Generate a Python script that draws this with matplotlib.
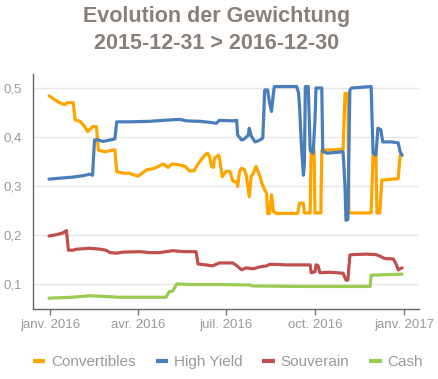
import matplotlib
matplotlib.use("Agg")
import matplotlib.pyplot as plt
import numpy as np
import pandas as pd

# ---------------- data ----------------
conv_dates = ["2015-12-31", "2016-01-06", "2016-01-11", "2016-01-16", "2016-01-19", "2016-01-25",
              "2016-01-27", "2016-02-01", "2016-02-06", "2016-02-09", "2016-02-14", "2016-02-18",
              "2016-02-20", "2016-02-27", "2016-03-08", "2016-03-10", "2016-03-18", "2016-03-23",
              "2016-04-01", "2016-04-10", "2016-04-18", "2016-04-27", "2016-05-02", "2016-05-06",
              "2016-05-14", "2016-05-20", "2016-05-24", "2016-05-29", "2016-06-02", "2016-06-09",
              "2016-06-12", "2016-06-14", "2016-06-16", "2016-06-18", "2016-06-19", "2016-06-23",
              "2016-06-24", "2016-06-27", "2016-07-01", "2016-07-05", "2016-07-08", "2016-07-10",
              "2016-07-12", "2016-07-13", "2016-07-15", "2016-07-17", "2016-07-20", "2016-07-22",
              "2016-07-25", "2016-07-27", "2016-07-29", "2016-08-01", "2016-08-05", "2016-08-08",
              "2016-08-12", "2016-08-13", "2016-08-15", "2016-08-17", "2016-08-19", "2016-08-22",
              "2016-09-13", "2016-09-15", "2016-09-19", "2016-09-20", "2016-09-26", "2016-09-27",
              "2016-09-30", "2016-10-01", "2016-10-07", "2016-10-08", "2016-10-30", "2016-11-01",
              "2016-11-04", "2016-11-05", "2016-11-28", "2016-11-30", "2016-12-03", "2016-12-04",
              "2016-12-07", "2016-12-09", "2016-12-26", "2016-12-28", "2016-12-30"]
conv_values = [0.484, 0.476, 0.470, 0.466, 0.470, 0.470,
               0.435, 0.432, 0.421, 0.411, 0.421, 0.421,
               0.373, 0.370, 0.374, 0.329, 0.326, 0.326,
               0.320, 0.333, 0.336, 0.345, 0.338, 0.345,
               0.343, 0.340, 0.331, 0.331, 0.345, 0.363,
               0.367, 0.360, 0.340, 0.338, 0.357, 0.363,
               0.360, 0.319, 0.330, 0.330, 0.310, 0.309,
               0.309, 0.299, 0.330, 0.336, 0.334, 0.320,
               0.278, 0.320, 0.325, 0.340, 0.320, 0.300,
               0.285, 0.244, 0.244, 0.282, 0.248, 0.244,
               0.244, 0.265, 0.265, 0.245, 0.245, 0.373,
               0.373, 0.245, 0.245, 0.373, 0.375, 0.489,
               0.489, 0.245, 0.245, 0.363, 0.363, 0.245,
               0.245, 0.312, 0.315, 0.363, 0.363]

hy_dates = ["2015-12-31", "2016-01-11", "2016-01-24", "2016-02-04", "2016-02-11", "2016-02-14",
            "2016-02-16", "2016-02-20", "2016-02-25", "2016-03-03", "2016-03-08", "2016-03-10",
            "2016-03-23", "2016-04-13", "2016-04-27", "2016-05-14", "2016-05-21", "2016-06-04",
            "2016-06-14", "2016-06-21", "2016-06-24", "2016-07-08", "2016-07-12", "2016-07-13",
            "2016-07-17", "2016-07-20", "2016-07-24", "2016-07-25", "2016-07-27", "2016-07-31",
            "2016-08-03", "2016-08-07", "2016-08-08", "2016-08-10", "2016-08-13", "2016-08-15",
            "2016-08-17", "2016-08-19", "2016-08-20", "2016-09-12", "2016-09-14", "2016-09-15",
            "2016-09-17", "2016-09-19", "2016-09-20", "2016-09-21", "2016-09-24", "2016-09-26",
            "2016-09-29", "2016-10-01", "2016-10-02", "2016-10-08", "2016-10-09", "2016-10-14",
            "2016-10-30", "2016-11-01", "2016-11-02", "2016-11-04", "2016-11-06", "2016-11-08",
            "2016-11-28", "2016-11-30", "2016-12-03", "2016-12-05", "2016-12-08", "2016-12-10",
            "2016-12-19", "2016-12-26", "2016-12-28", "2016-12-30"]
hy_values = [0.314, 0.316, 0.318, 0.321, 0.324, 0.322,
             0.394, 0.394, 0.391, 0.394, 0.396, 0.431,
             0.431, 0.432, 0.434, 0.436, 0.433, 0.432,
             0.430, 0.428, 0.434, 0.433, 0.434, 0.404,
             0.394, 0.396, 0.404, 0.418, 0.402, 0.390,
             0.392, 0.396, 0.398, 0.496, 0.496, 0.470,
             0.452, 0.490, 0.503, 0.503, 0.490, 0.462,
             0.380, 0.322, 0.345, 0.503, 0.503, 0.373,
             0.367, 0.435, 0.500, 0.500, 0.370, 0.367,
             0.370, 0.300, 0.230, 0.232, 0.496, 0.500,
             0.503, 0.367, 0.363, 0.418, 0.415, 0.390,
             0.390, 0.388, 0.370, 0.363]

souv_dates = ["2015-12-31", "2016-01-06", "2016-01-14", "2016-01-18", "2016-01-20", "2016-01-25",
              "2016-01-28", "2016-02-11", "2016-02-22", "2016-02-28", "2016-03-03", "2016-03-10",
              "2016-03-16", "2016-04-03", "2016-04-13", "2016-04-23", "2016-05-07", "2016-05-18",
              "2016-05-31", "2016-06-02", "2016-06-10", "2016-06-17", "2016-06-24", "2016-07-08",
              "2016-07-13", "2016-07-17", "2016-07-22", "2016-07-29", "2016-08-05", "2016-08-12",
              "2016-08-15", "2016-08-22", "2016-09-01", "2016-09-26", "2016-09-27", "2016-10-01",
              "2016-10-02", "2016-10-04", "2016-10-06", "2016-10-16", "2016-10-30", "2016-11-02",
              "2016-11-04", "2016-11-06", "2016-11-09", "2016-11-23", "2016-12-03", "2016-12-07",
              "2016-12-12", "2016-12-21", "2016-12-24", "2016-12-26", "2016-12-30"]
souv_values = [0.198, 0.200, 0.204, 0.209, 0.169, 0.169,
               0.171, 0.173, 0.171, 0.169, 0.164, 0.163,
               0.165, 0.166, 0.164, 0.164, 0.168, 0.166,
               0.166, 0.141, 0.139, 0.137, 0.143, 0.143,
               0.136, 0.129, 0.133, 0.131, 0.135, 0.137,
               0.140, 0.140, 0.139, 0.139, 0.123, 0.125,
               0.139, 0.138, 0.123, 0.124, 0.122, 0.108,
               0.108, 0.159, 0.160, 0.161, 0.160, 0.157,
               0.152, 0.151, 0.140, 0.129, 0.133]

cash_dates = ["2015-12-31", "2016-01-11", "2016-01-24", "2016-02-11", "2016-02-22", "2016-03-13",
              "2016-04-30", "2016-05-03", "2016-05-07", "2016-05-11", "2016-05-24", "2016-06-24",
              "2016-07-25", "2016-07-29", "2016-09-15", "2016-11-27", "2016-11-28", "2016-12-12",
              "2016-12-30"]
cash_values = [0.071, 0.072, 0.073, 0.076, 0.075, 0.073,
               0.073, 0.084, 0.086, 0.100, 0.099, 0.099,
               0.098, 0.096, 0.095, 0.095, 0.118, 0.119,
               0.120]

series_names = ["Convertibles", "High Yield", "Souverain", "Cash"]
series_colors = ["#FFA500", "#4A7EBB", "#C0504D", "#9BCB51"]

xtick_dates = ["2016-01-01", "2016-04-01", "2016-07-01", "2016-10-01", "2017-01-01"]
xtick_labels = ["janv. 2016", "avr. 2016", "juil. 2016", "oct. 2016", "janv. 2017"]
ytick_values = [0.1, 0.2, 0.3, 0.4, 0.5]
ytick_labels = ["0,1", "0,2", "0,3", "0,4", "0,5"]

title_text = "Evolution der Gewichtung\n2015-12-31 > 2016-12-30"

# ---------------- plot ----------------
W, H = 439, 379
fig = plt.figure(figsize=(W / 100, H / 100), dpi=100)
ax = fig.add_axes([33 / W, 1 - 309 / H, (419 - 33) / W, (309 - 74) / H])

all_series = [(conv_dates, conv_values), (hy_dates, hy_values),
              (souv_dates, souv_values), (cash_dates, cash_values)]
for (d, v), name, col in zip(all_series, series_names, series_colors):
    ax.plot(pd.to_datetime(d), v, color=col, lw=2.3, label=name,
            solid_joinstyle="round", solid_capstyle="round")

ax.set_xlim(pd.Timestamp("2015-12-14 10:00"), pd.Timestamp("2017-01-16 12:00"))
ax.set_ylim(0.049, 0.5286)

ax.set_xticks(pd.to_datetime(xtick_dates))
ax.set_xticklabels(xtick_labels)
ax.set_yticks(ytick_values)
ax.set_yticklabels(ytick_labels)

tick_col = "#9a9a9a"
ax.tick_params(axis="x", colors="#777777", labelcolor=tick_col, labelsize=9.5,
               length=4, width=1, pad=3)
ax.tick_params(axis="y", length=0, labelcolor=tick_col, labelsize=9.5, pad=8)
for lab in ax.get_xticklabels() + ax.get_yticklabels():
    lab.set_family(["Liberation Sans", "DejaVu Sans"])

ax.grid(axis="y", color="#e6e6e6", lw=1)
ax.set_axisbelow(True)
for s in ["top", "right"]:
    ax.spines[s].set_visible(False)
for s in ["left", "bottom"]:
    ax.spines[s].set_color("#666666")
    ax.spines[s].set_linewidth(1)

fig.text(217 / W, 1 - 6 / H, title_text, ha="center", va="top",
         fontsize=15.5, fontweight="bold", color="#8A8079",
         family=["Liberation Sans", "DejaVu Sans"], linespacing=1.4)

leg = fig.legend(loc="center", bbox_to_anchor=(228 / W, 1 - 362 / H), ncol=4,
                 frameon=False, handlelength=0.8, handletextpad=0.4,
                 columnspacing=1.3, prop={"family": ["Liberation Sans", "DejaVu Sans"], "size": 11})
for t in leg.get_texts():
    t.set_color(tick_col)
for h in leg.get_lines():
    h.set_linewidth(3)
    h.set_solid_capstyle("butt")

fig.savefig("out.png", dpi=100)
